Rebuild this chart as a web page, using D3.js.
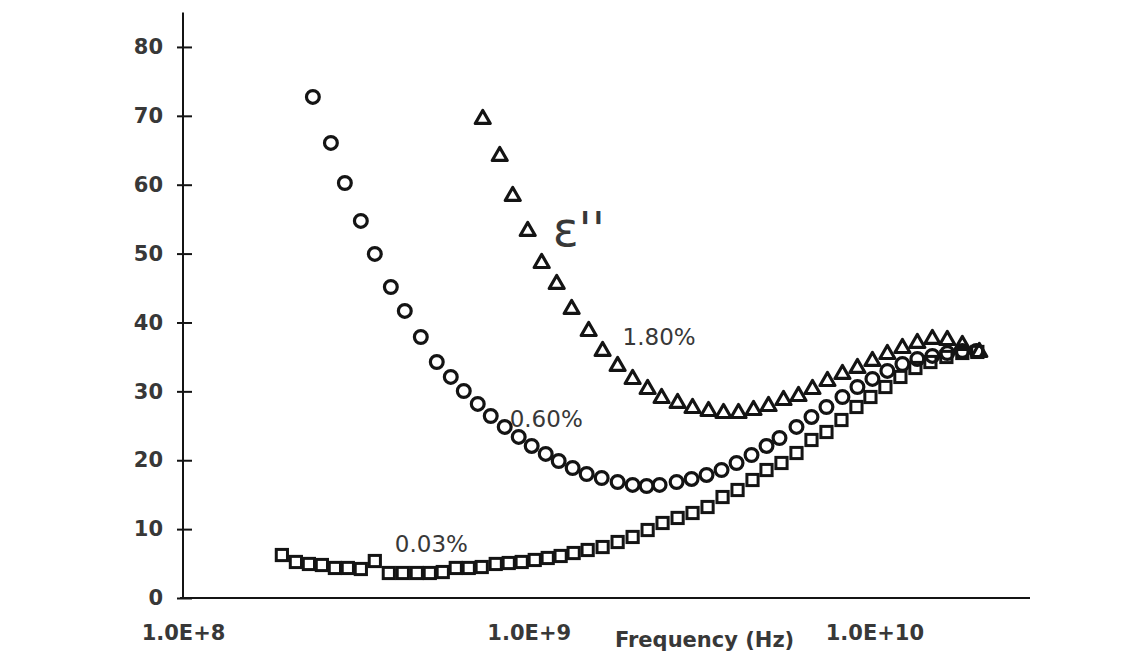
<!DOCTYPE html>
<html>
<head>
<meta charset="utf-8">
<script src="https://cdn.jsdelivr.net/npm/d3@7"></script>
<style>
  body { margin: 0; background: #fff; }
  svg { display: block; }
</style>
</head>
<body>
<div id="chart"></div>
<script>
// frequencies in GHz, values of eps''
const freqSquares = [0.1932, 0.2121, 0.2313, 0.2522, 0.2750, 0.2998, 0.3269, 0.3588, 0.3939, 0.4324,
    0.4746, 0.5175, 0.5642, 0.6152, 0.6708, 0.7314, 0.8028, 0.8754, 0.9545, 1.041,
    1.135, 1.237, 1.349, 1.481, 1.636, 1.808, 1.998, 2.208, 2.439, 2.696,
    2.978, 3.291, 3.637, 4.019, 4.440, 4.874, 5.385, 5.951, 6.576, 7.266,
    8.029, 8.872, 9.738, 10.76, 11.89, 13.14, 14.52, 16.15, 17.96, 19.85];
const valSquares = [6.24, 5.23, 4.94, 4.79, 4.36, 4.36, 4.21, 5.37, 3.63, 3.63,
    3.63, 3.63, 3.77, 4.36, 4.36, 4.50, 4.94, 5.08, 5.23, 5.52,
    5.81, 6.10, 6.53, 6.97, 7.40, 8.13, 8.86, 9.87, 10.89, 11.62,
    12.34, 13.21, 14.66, 15.68, 17.13, 18.58, 19.60, 21.05, 22.94, 24.10,
    25.84, 27.73, 29.18, 30.63, 32.09, 33.39, 34.26, 34.99, 35.57, 35.72];

const freqCircles = [0.2375, 0.2678, 0.2939, 0.3269, 0.3588, 0.3992, 0.4381, 0.4874, 0.5421, 0.5951,
    0.6489, 0.7122, 0.7766, 0.8524, 0.9356, 1.020, 1.120, 1.221, 1.340, 1.471,
    1.626, 1.808, 1.998, 2.193, 2.391, 2.678, 2.959, 3.269, 3.613, 3.992,
    4.411, 4.874, 5.314, 5.951, 6.576, 7.266, 8.082, 8.931, 9.868, 10.90,
    12.05, 13.31, 14.71, 16.25, 17.96, 19.72];
const valCircles = [72.74, 66.06, 60.25, 54.74, 49.95, 45.15, 41.67, 37.89, 34.26, 32.09,
    30.05, 28.17, 26.42, 24.83, 23.38, 22.07, 20.91, 19.89, 18.87, 18.00,
    17.42, 16.84, 16.41, 16.26, 16.41, 16.84, 17.28, 17.86, 18.58, 19.60,
    20.76, 22.07, 23.23, 24.83, 26.28, 27.73, 29.18, 30.63, 31.80, 32.96,
    33.97, 34.70, 35.14, 35.57, 35.86, 35.86];

const freqTriangles = [0.7363, 0.8245, 0.8990, 0.9934, 1.090, 1.205, 1.331, 1.491, 1.636, 1.808,
    1.998, 2.208, 2.423, 2.696, 2.978, 3.313, 3.661, 4.045, 4.470, 4.939,
    5.458, 6.031, 6.620, 7.314, 8.082, 8.931, 9.868, 10.90, 12.05, 13.31,
    14.71, 16.25, 17.96, 20.11];
const valTriangles = [69.69, 64.32, 58.51, 53.43, 48.78, 45.74, 42.11, 38.91, 36.01, 33.83,
    31.94, 30.49, 29.18, 28.46, 27.73, 27.29, 27.00, 27.00, 27.44, 28.02,
    28.89, 29.47, 30.49, 31.65, 32.67, 33.54, 34.56, 35.57, 36.44, 37.17,
    37.75, 37.60, 36.88, 35.86];

const yTicks = [0, 10, 20, 30, 40, 50, 60, 70, 80];
const xTicks = [1e8, 1e9, 1e10];
const xTickLabels = ["1.0E+8", "1.0E+9", "1.0E+10"];

// label text, frequency (GHz), value
const seriesLabels = [
    ["1.80%", 1.869, 36.7],
    ["0.60%", 0.881, 24.8],
    ["0.03%", 0.410, 6.7]
];

function zip(f, v) {
    return f.map(function (d, i) { return [d * 1e9, v[i]]; });
}

function plot_chart(target) {

    let w = 1142;
    let h = 657;
    let ink = "#141414";
    let txt = "#383838";
    let font = "'DejaVu Sans', sans-serif";

    let svg = d3.select(target)
        .append("svg")
        .attr("width", w)
        .attr("height", h);

    svg.append("rect")
        .attr("width", w)
        .attr("height", h)
        .attr("fill", "#fff");

    let x = d3.scaleLog()
        .domain([1e8, 2.8e10])
        .range([183, 1029]);

    let y = d3.scaleLinear()
        .domain([0, 85])
        .range([598, 12.5]);

    // y axis, ticks cross the line
    let yAxis = svg.append("g")
        .attr("transform", "translate(183,0)")
        .call(d3.axisLeft(y).tickValues(yTicks).tickSize(6).tickPadding(14));

    yAxis.select(".domain")
        .attr("d", "M0," + y(85) + "V" + y(0))
        .attr("stroke", ink)
        .attr("stroke-width", 2);

    yAxis.selectAll(".tick line")
        .attr("x1", 9)
        .attr("x2", -6)
        .attr("stroke", ink)
        .attr("stroke-width", 2);

    yAxis.selectAll(".tick text")
        .attr("font-family", font)
        .attr("font-weight", "bold")
        .attr("font-size", "21px")
        .attr("fill", txt);

    // x axis
    let xAxis = svg.append("g")
        .attr("transform", "translate(0,598)")
        .call(d3.axisBottom(x).tickValues(xTicks).tickSize(0).tickPadding(27)
            .tickFormat(function (d, i) { return xTickLabels[i]; }));

    xAxis.select(".domain")
        .attr("d", "M180,0H1030")
        .attr("stroke", ink)
        .attr("stroke-width", 2);

    xAxis.selectAll(".tick text")
        .attr("font-family", font)
        .attr("font-weight", "bold")
        .attr("font-size", "21px")
        .attr("fill", txt);

    svg.append("text")
        .text("Frequency (Hz)")
        .attr("x", 615)
        .attr("y", 647)
        .attr("font-family", font)
        .attr("font-weight", "bold")
        .attr("font-size", "21px")
        .attr("fill", txt);

    // squares 0.03%
    svg.append("g").selectAll("rect")
        .data(zip(freqSquares, valSquares))
        .enter()
        .append("rect")
        .attr("x", function (d) { return x(d[0]) - 5.6; })
        .attr("y", function (d) { return y(d[1]) - 5.6; })
        .attr("width", 11.2)
        .attr("height", 11.2)
        .attr("fill", "none")
        .attr("stroke", ink)
        .attr("stroke-width", 3);

    // circles 0.60%
    svg.append("g").selectAll("circle")
        .data(zip(freqCircles, valCircles))
        .enter()
        .append("circle")
        .attr("cx", function (d) { return x(d[0]); })
        .attr("cy", function (d) { return y(d[1]); })
        .attr("r", 6.4)
        .attr("fill", "none")
        .attr("stroke", ink)
        .attr("stroke-width", 3.2);

    // triangles 1.80%
    svg.append("g").selectAll("path")
        .data(zip(freqTriangles, valTriangles))
        .enter()
        .append("path")
        .attr("d", "M0,-7.5L7.5,5.5L-7.5,5.5Z")
        .attr("transform", function (d) {
            return "translate(" + x(d[0]) + "," + y(d[1]) + ")";
        })
        .attr("fill", "none")
        .attr("stroke", ink)
        .attr("stroke-width", 3.2)
        .attr("stroke-linejoin", "round");

    svg.selectAll("text.lab")
        .data(seriesLabels)
        .enter()
        .append("text")
        .attr("class", "lab")
        .text(function (d) { return d[0]; })
        .attr("x", function (d) { return x(d[1] * 1e9); })
        .attr("y", function (d) { return y(d[2]); })
        .attr("font-family", font)
        .attr("font-size", "23px")
        .attr("fill", txt);

    // eps'' label
    svg.append("text")
        .text("\u03b5''")
        .attr("x", x(1.173e9))
        .attr("y", y(51.1))
        .attr("font-family", font)
        .attr("font-size", "48px")
        .attr("fill", txt);
}

plot_chart("#chart");
</script>
</body>
</html>
